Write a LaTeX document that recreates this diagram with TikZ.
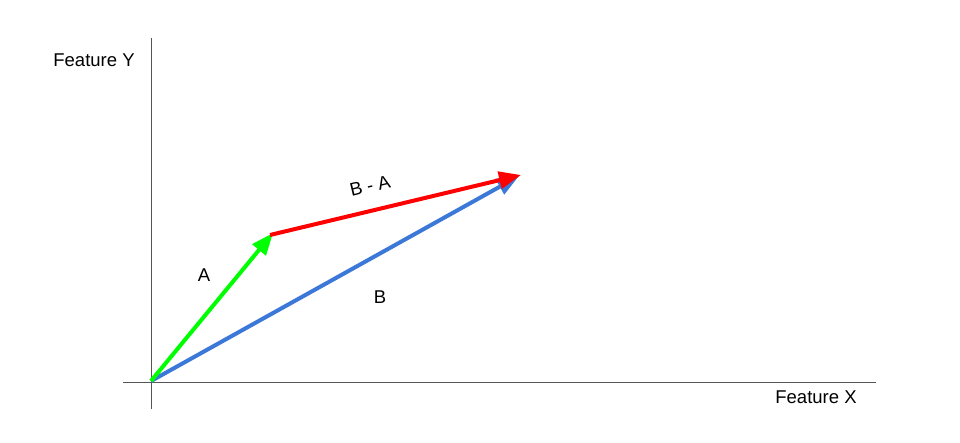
\documentclass[tikz,border=0pt]{standalone}
\usepackage{fontspec}
\setmainfont{Liberation Sans}
\usetikzlibrary{arrows.meta}
\definecolor{axisgray}{HTML}{555555}
\definecolor{vblue}{HTML}{3C78D8}
\definecolor{vgreen}{HTML}{00FF00}
\definecolor{vred}{HTML}{FF0000}
\begin{document}
\begin{tikzpicture}[x=1pt,y=-1pt,
  axisline/.style={draw=axisgray,line width=1pt},
  vec/.style={line width=4pt},
  lbl/.style={font=\fontsize{18.5}{22}\selectfont,inner sep=0pt}]
\useasboundingbox (0,0) rectangle (960,442);
\coordinate (ytop) at (151,38);
\coordinate (ybot) at (151,409);
\coordinate (xl) at (123,382);
\coordinate (xr) at (876,382);
\draw[axisline] (ytop) -- (ybot);
\draw[axisline] (xl) -- (xr);
\coordinate (O) at (151,381);
\coordinate (Atip) at (273,233);
\coordinate (Astart) at (270,235);
\coordinate (Btip) at (521,175);
\coordinate (Btip2) at (519,176);
\draw[vec,draw=vblue,-{Triangle[length=22pt,width=17pt,fill=vblue]}] (O) -- (Btip2);
\draw[vec,draw=vgreen,-{Triangle[length=22pt,width=17pt,fill=vgreen]}] (O) -- (Atip);
\draw[vec,draw=vred,-{Triangle[length=22pt,width=17pt,fill=vred]}] (Astart) -- (Btip);
\node[lbl] (la) at (204,275) {A};
\node[lbl] (lb) at (380,297) {B};
\node[lbl,rotate=13.5] (lba) at (370,186) {B - A};
\node[lbl] (fy) at (94,60) {Feature Y};
\node[lbl] (fx) at (816,397) {Feature X};
\end{tikzpicture}
\end{document}
